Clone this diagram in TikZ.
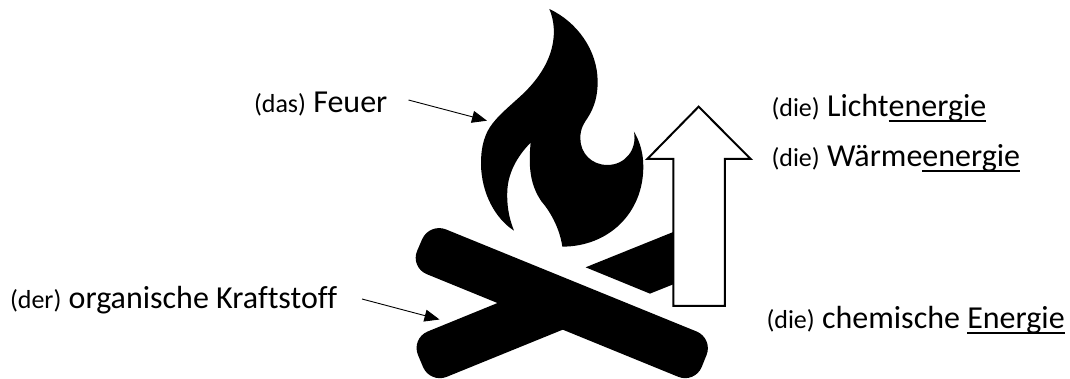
\documentclass[tikz,border=0pt]{standalone}
\usepackage{fontspec}
\setmainfont[Ligatures=NoCommon]{Carlito}
\newcommand{\sm}{\fontsize{26}{30}\selectfont}
\newcommand{\bg}{\fontsize{32}{36}\selectfont}
\newcommand{\ulx}[1]{\setbox0\hbox{#1}\rlap{\rule[-5.5pt]{\wd0}{2pt}}\box0 }
\usetikzlibrary{arrows.meta}
\tikzset{
  lbl/.style={anchor=base west,inner sep=0pt,outer sep=0pt,font=\bg},
  pointer/.style={draw=black,line width=0.9pt,-{Triangle[length=15pt,width=12pt]}},
  solid shape/.style={fill=black,draw=none},
}
\begin{document}
\begin{tikzpicture}[x=1pt,y=-1pt]
\useasboundingbox (0,0) rectangle (1070,379);
\begin{scope}[shift={(400,0)},x=0.3333pt,y=-0.3333pt]
% flame
\path[solid shape] (448,27)
  .. controls (475,90) and (470,190) .. (360,290)
  .. controls (310,335) and (280,360) .. (262,395)
  .. controls (245,430) and (243,465) .. (243,495)
  .. controls (245,580) and (285,655) .. (342,692)
  .. controls (325,650) and (320,610) .. (322,570)
  .. controls (325,520) and (350,470) .. (392,428)
  .. controls (385,500) and (390,555) .. (425,605)
  .. controls (455,640) and (480,690) .. (487,740)
  .. controls (625,740) and (730,640) .. (730,500)
  .. controls (730,460) and (720,425) .. (702,395)
  .. controls (712,450) and (675,495) .. (622,495)
  .. controls (575,495) and (541,460) .. (541,415)
  .. controls (541,385) and (552,370) .. (562,355)
  .. controls (585,320) and (593,285) .. (593,245)
  .. controls (593,150) and (530,65) .. (448,27) -- cycle;
% far log piece
\path[solid shape] (557,802) -- (830,692) -- (830,849) -- (750,881) -- cycle;
% crossing logs
\path[solid shape,rounded corners=18pt] (88,668) -- (940,1015) -- (885,1151) -- (30,802) -- cycle;
\path[solid shape,rounded corners=18pt] (33,1015) -- (450,845) -- (550,964) -- (90,1151) -- cycle;
% big arrow
\path[draw=black,fill=white,line width=2pt,miter limit=10] (896,320) -- (1052,477) -- (975,477) -- (975,918) -- (820,918) -- (820,477) -- (742,477) -- cycle;
\end{scope}
\node[lbl] (feuer) at (254,113) {{\sm (das)} Feuer};
\node[lbl] (kraft) at (10,308.5) {{\sm (der)} organische Kraftstoff};
\node[lbl] (licht) at (771.5,116.5) {{\sm (die)} Licht\ulx{energie}};
\node[lbl] (waerme) at (771.5,166.5) {{\sm (die)} Wärme\ulx{energie}};
\node[lbl] (chem) at (766.5,328.5) {{\sm (die)} chemische \ulx{Energie}};
\coordinate (fs) at (408.5,100);
\coordinate (ft) at (487,120.7);
\coordinate (ks) at (362,299);
\coordinate (kt) at (439.5,319.5);
\draw[pointer] (fs) -- (ft);
\draw[pointer] (ks) -- (kt);
\end{tikzpicture}
\end{document}
